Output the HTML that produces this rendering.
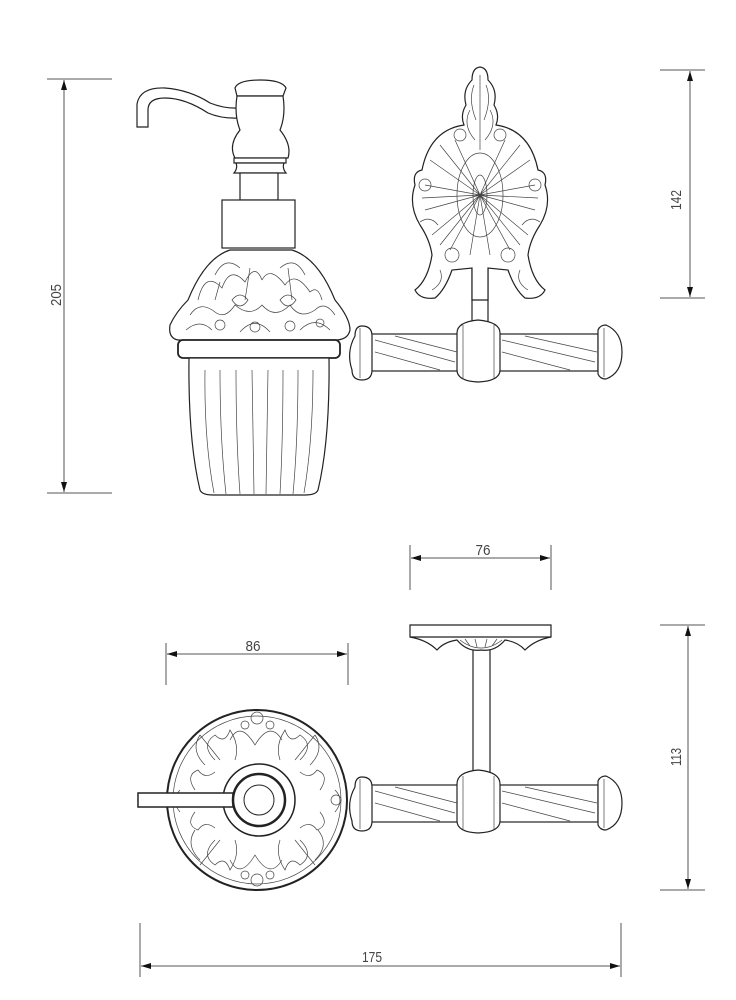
<!DOCTYPE html>
<html><head><meta charset="utf-8"><style>
html,body{margin:0;padding:0;background:#fff}
svg{display:block}
text{font-family:"Liberation Sans",sans-serif;font-size:15px;fill:#444}
</style></head><body>
<svg width="736" height="1000" viewBox="0 0 736 1000" xmlns="http://www.w3.org/2000/svg">
<defs>
<marker id="a" markerWidth="10" markerHeight="6" refX="10" refY="3" orient="auto-start-reverse" markerUnits="userSpaceOnUse"><path d="M0,0 L10,3 L0,6z" fill="#111"/></marker>
</defs>
<g stroke="#555" stroke-width="1" fill="none">
<line x1="47" y1="79" x2="112" y2="79"/><line x1="47" y1="493" x2="112" y2="493"/>
<line x1="64" y1="80" x2="64" y2="492" marker-start="url(#a)" marker-end="url(#a)"/>
<line x1="660" y1="70" x2="705" y2="70"/><line x1="660" y1="298" x2="705" y2="298"/>
<line x1="690" y1="71" x2="690" y2="297" marker-start="url(#a)" marker-end="url(#a)"/>
<line x1="410" y1="545" x2="410" y2="590"/><line x1="551" y1="545" x2="551" y2="590"/>
<line x1="411" y1="558" x2="550" y2="558" marker-start="url(#a)" marker-end="url(#a)"/>
<line x1="166" y1="643" x2="166" y2="685"/><line x1="348" y1="643" x2="348" y2="685"/>
<line x1="167" y1="654" x2="347" y2="654" marker-start="url(#a)" marker-end="url(#a)"/>
<line x1="660" y1="625" x2="705" y2="625"/><line x1="660" y1="890" x2="705" y2="890"/>
<line x1="688" y1="626" x2="688" y2="889" marker-start="url(#a)" marker-end="url(#a)"/>
<line x1="140" y1="923" x2="140" y2="977"/><line x1="621" y1="923" x2="621" y2="977"/>
<line x1="141" y1="966" x2="620" y2="966" marker-start="url(#a)" marker-end="url(#a)"/>
</g>
<text x="57" y="295" transform="rotate(-90 57 295)" text-anchor="middle" dominant-baseline="middle" textLength="22" lengthAdjust="spacingAndGlyphs">205</text>
<text x="677" y="200" transform="rotate(-90 677 200)" text-anchor="middle" dominant-baseline="middle" textLength="20" lengthAdjust="spacingAndGlyphs">142</text>
<text x="483" y="555" text-anchor="middle" textLength="15" lengthAdjust="spacingAndGlyphs">76</text>
<text x="253" y="651" text-anchor="middle" textLength="15" lengthAdjust="spacingAndGlyphs">86</text>
<text x="677" y="757" transform="rotate(-90 677 757)" text-anchor="middle" dominant-baseline="middle" textLength="18" lengthAdjust="spacingAndGlyphs">113</text>
<text x="372" y="962" text-anchor="middle" textLength="20" lengthAdjust="spacingAndGlyphs">175</text>

<g stroke="#222" stroke-width="1.2" fill="#fff">
<path d="M137,127 L137,104 Q140,87 165,88 Q190,90 210,103 Q225,109 240,108 L240,118 Q222,119 208,113 Q185,98 165,98 Q148,98 148,110 L148,127 Z"/>
<path d="M235,88 Q238,80 260,80 Q282,80 286,88 L283,96 L237,96 Z"/>
<path d="M237,96 L283,96 Q286,115 280,130 Q292,145 288,158 L235,158 Q228,145 240,130 Q234,115 237,96Z"/>
<rect x="234" y="158" width="52" height="5"/>
<path d="M236,163 L284,163 Q282,168 286,173 L234,173 Q238,168 236,163Z"/>
<rect x="240" y="173" width="38" height="27"/>
<rect x="222" y="200" width="73" height="48"/>
<path d="M230,250 L292,250 Q318,258 335,300 Q350,318 350,330 Q348,340 335,340 L178,340 Q168,338 170,325 Q176,312 188,300 Q205,258 230,250Z"/>
<rect x="178" y="340" width="162" height="18" rx="5" stroke-width="1.8"/>
<path d="M189,358 L329,358 Q330,440 318,490 Q316,495 305,495 L213,495 Q202,495 200,490 Q188,440 189,358Z"/>
</g>
<g stroke="#444" stroke-width="0.7" fill="none">
<path d="M205,370 Q204,440 214,493"/><path d="M220,370 Q220,440 226,494"/><path d="M236,370 Q236,440 240,494"/><path d="M252,370 L254,494"/><path d="M268,370 L266,494"/><path d="M283,370 Q283,440 280,494"/><path d="M298,370 Q298,440 293,494"/><path d="M313,370 Q313,440 304,493"/>
<path d="M190,315 Q200,300 215,312 Q225,320 235,305 Q250,318 262,305 Q275,320 290,305 Q300,320 315,310 Q325,300 335,315"/>
<path d="M186,330 Q200,318 212,330 M240,332 Q255,315 270,332 M300,330 Q315,315 330,330"/>
<path d="M198,300 Q205,270 222,288 Q230,265 245,282 Q255,262 262,280 M262,280 Q270,265 285,285 Q295,270 310,292 Q318,285 322,300"/>
<path d="M215,275 Q225,255 240,268 M280,268 Q295,255 305,275"/>
<path d="M245,300 L250,268 M292,300 L288,268 M215,300 L220,282"/>
<path d="M232,300 Q240,290 248,300 Q240,312 232,300Z M280,300 Q288,290 296,300 Q288,312 280,300Z"/>
<circle cx="220" cy="325" r="5"/><circle cx="255" cy="327" r="5"/><circle cx="290" cy="326" r="5"/><circle cx="320" cy="323" r="4"/>
</g>

<g stroke="#222" stroke-width="1.2" fill="#fff">
<rect x="472" y="250" width="16" height="80"/>
<path d="M480,67 Q488,68 488,80 Q498,90 494,105 Q500,115 496,125 Q530,130 538,170 Q548,172 545,185 Q552,205 540,225 Q530,240 528,255 Q532,280 545,290 Q540,300 525,298 Q515,290 508,270 L488,268 L488,300 L472,300 L472,268 L452,270 Q445,290 435,298 Q420,300 415,290 Q428,280 432,255 Q430,240 420,225 Q408,205 415,185 Q412,172 422,170 Q430,130 464,125 Q460,115 466,105 Q462,90 472,80 Q472,68 480,67Z"/>
</g>
<g stroke="#444" stroke-width="0.7" fill="none">
<ellipse cx="480" cy="195" rx="7" ry="20"/><ellipse cx="480" cy="195" rx="23" ry="42"/>
<path d="M480,75 L480,150 M474,85 Q468,100 476,120 M486,85 Q492,100 484,120 M470,110 Q462,125 475,140 M490,110 Q498,125 485,140"/>
<path d="M480,195 L430,160 M480,195 L425,185 M480,195 L425,210 M480,195 L432,235 M480,195 L450,250 M480,195 L530,160 M480,195 L535,185 M480,195 L535,210 M480,195 L528,235 M480,195 L510,250 M480,195 L455,140 M480,195 L505,140 M480,195 L440,145 M480,195 L520,145 M480,195 L422,198 M480,195 L538,198 M480,195 L440,245 M480,195 L520,245 M480,195 L470,255 M480,195 L490,255"/>
<circle cx="460" cy="135" r="6"/><circle cx="500" cy="135" r="6"/><circle cx="425" cy="185" r="6"/><circle cx="535" cy="185" r="6"/><circle cx="452" cy="255" r="7"/><circle cx="508" cy="255" r="7"/>
<path d="M420,222 Q430,215 438,225 M540,222 Q530,215 522,225 M440,270 Q445,282 432,290 M520,270 Q515,282 528,290"/>
</g>

<g stroke="#222" stroke-width="1.2" fill="#fff">
<rect x="368" y="334" width="230" height="37"/>
<path d="M355,336 Q355,326 362,326 Q372,326 372,336 L372,370 Q372,380 362,380 Q352,380 352,370 Q346,352 355,336Z"/>
<path d="M457,333 Q457,322 478,320 Q500,322 500,333 L500,370 Q500,381 478,382 Q457,381 457,370Z"/>
<path d="M598,330 Q600,325 606,325 Q622,332 622,352 Q622,373 606,379 Q600,379 598,374Z"/>
</g>
<g stroke="#444" stroke-width="0.7" fill="none">
<path d="M375,340 L455,362 M375,352 L440,370 M395,336 L457,352 M502,340 L595,362 M502,352 L570,370 M525,336 L597,352"/>
<line x1="463" y1="325" x2="463" y2="378"/><line x1="494" y1="325" x2="494" y2="378"/><line x1="604" y1="328" x2="604" y2="377"/><line x1="360" y1="328" x2="360" y2="378"/>
</g>

<g stroke="#222" stroke-width="1.2" fill="#fff">
<rect x="473" y="645" width="17" height="135"/>
<path d="M410,625 L551,625 L551,637 Q535,640 525,650 Q518,642 505,640 Q495,652 481,650 Q467,652 457,640 Q444,642 437,650 Q427,640 410,637Z"/>
<line x1="410" y1="637" x2="551" y2="637"/>
<circle cx="257" cy="800" r="90" stroke-width="2"/>
</g>
<g stroke="#444" stroke-width="0.7" fill="none">
<path d="M460,640 Q470,648 481,648 Q492,648 502,640 M465,639 L470,646 M475,639 L477,647 M487,639 L485,647 M497,639 L492,646"/>
<circle cx="257" cy="800" r="84"/>
<path d="M230,740 Q240,720 255,745 Q270,720 282,740 M205,765 Q190,750 200,735 M310,765 Q325,750 315,735 M195,830 Q185,845 200,860 M318,830 Q330,845 315,860 M230,860 Q240,880 255,855 Q270,880 282,860 M180,790 Q170,800 180,812 M335,790 Q345,800 335,812"/>
<path d="M215,760 Q200,745 215,735 Q225,745 230,730 Q240,745 235,760 M300,760 Q315,745 300,735 Q290,745 285,730 Q275,745 280,760 M215,840 Q200,855 215,865 Q225,855 230,870 Q240,855 235,840 M300,840 Q315,855 300,865 Q290,855 285,870 Q275,855 280,840"/>
<path d="M195,790 Q185,775 198,770 Q205,780 215,772 M320,790 Q330,775 317,770 Q310,780 300,772 M195,812 Q185,825 198,830 Q205,820 215,828 M320,812 Q330,825 317,830 Q310,820 300,828"/>
<circle cx="257" cy="718" r="6"/><circle cx="257" cy="880" r="6"/><circle cx="178" cy="800" r="5"/><circle cx="336" cy="800" r="5"/>
<circle cx="245" cy="725" r="4"/><circle cx="270" cy="725" r="4"/><circle cx="245" cy="875" r="4"/><circle cx="270" cy="875" r="4"/>
<path d="M220,760 L200,735 M295,760 L315,735 M220,840 L200,865 M295,840 L315,865"/>
</g>
<g stroke="#222" fill="#fff">
<circle cx="259" cy="800" r="36" stroke-width="1.5"/>
<rect x="138" y="793" width="95" height="14" stroke-width="1.5"/>
<circle cx="259" cy="800" r="26" stroke-width="2.5"/>
<circle cx="259" cy="800" r="15" stroke-width="1"/>
</g>
<g stroke="#222" stroke-width="1.2" fill="#fff">
<rect x="368" y="785" width="230" height="37"/>
<path d="M355,787 Q355,777 362,777 Q372,777 372,787 L372,821 Q372,831 362,831 Q352,831 352,821 Q346,803 355,787Z"/>
<path d="M457,784 Q457,772 478,770 Q500,772 500,784 L500,821 Q500,832 478,833 Q457,832 457,821Z"/>
<path d="M598,781 Q600,776 606,776 Q622,783 622,803 Q622,824 606,830 Q600,830 598,825Z"/>
</g>
<g stroke="#444" stroke-width="0.7" fill="none">
<path d="M375,791 L455,813 M375,803 L440,821 M395,787 L457,803 M502,791 L595,813 M502,803 L570,821 M525,787 L597,803"/>
<line x1="463" y1="776" x2="463" y2="829"/><line x1="494" y1="776" x2="494" y2="829"/><line x1="604" y1="779" x2="604" y2="828"/><line x1="360" y1="779" x2="360" y2="829"/>
</g>
</svg>
</body></html>
